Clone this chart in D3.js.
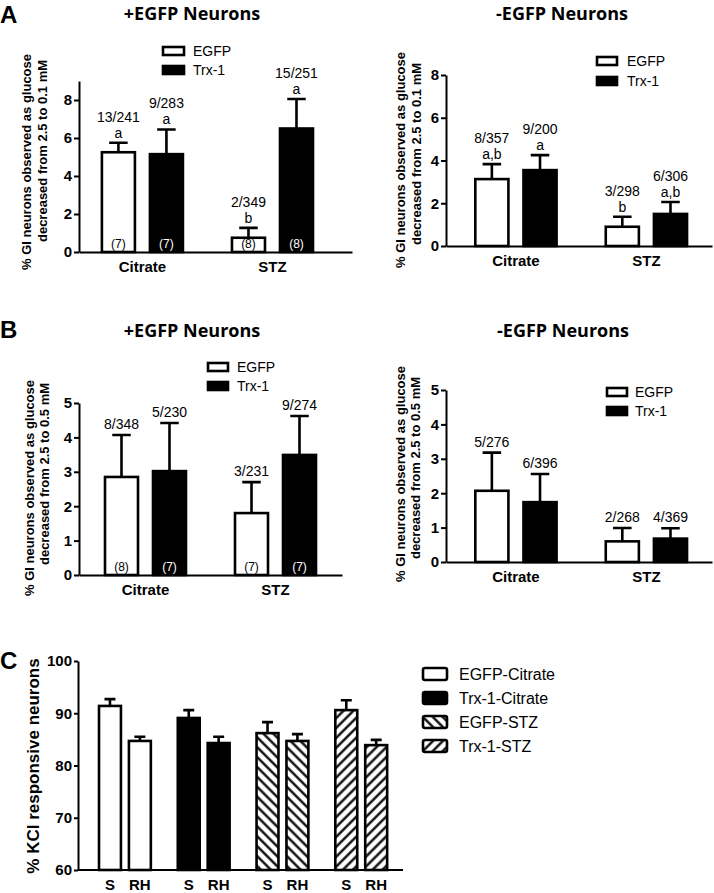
<!DOCTYPE html>
<html>
<head>
<meta charset="utf-8">
<script src="https://cdn.jsdelivr.net/npm/d3@7"></script>
<style>
  body { margin: 0; background: #fff; }
  svg { display: block; font-family: "Liberation Sans", Arial, sans-serif; }
</style>
</head>
<body>
<svg id="fig" width="714" height="893"></svg>
<script>
// ---- data (bar order: Citrate/EGFP, Citrate/Trx-1, STZ/EGFP, STZ/Trx-1) ----
const groups = ["Citrate", "STZ"];
const series = ["EGFP", "Trx-1"];

// A: glucose 2.5 -> 0.1 mM
const aPosMean = [5.25, 5.15, 0.75, 6.5];
const aPosSem = [0.5, 1.3, 0.52, 1.55];
const aPosFrac = ["13/241", "9/283", "2/349", "15/251"];
const aPosLetter = ["a", "a", "b", "a"];
const aPosN = ["(7)", "(7)", "(8)", "(8)"];

const aNegMean = [3.13, 3.55, 0.9, 1.5];
const aNegSem = [0.7, 0.7, 0.47, 0.56];
const aNegFrac = ["8/357", "9/200", "3/298", "6/306"];
const aNegLetter = ["a,b", "a", "b", "a,b"];

// B: glucose 2.5 -> 0.5 mM
const bPosMean = [2.85, 3.02, 1.8, 3.49];
const bPosSem = [1.22, 1.4, 0.9, 1.13];
const bPosFrac = ["8/348", "5/230", "3/231", "9/274"];
const bPosN = ["(8)", "(7)", "(7)", "(7)"];

const bNegMean = [2.07, 1.74, 0.6, 0.68];
const bNegSem = [1.11, 0.82, 0.39, 0.3];
const bNegFrac = ["5/276", "6/396", "2/268", "4/369"];

// C: KCl responsive neurons
const cGroups = ["EGFP-Citrate", "Trx-1-Citrate", "EGFP-STZ", "Trx-1-STZ"];
const cConds = ["S", "RH"];
const cMean = [91.4, 84.7, 89.1, 84.3, 86.2, 84.7, 90.6, 83.9];
const cSem = [1.3, 0.8, 1.5, 1.2, 2.1, 1.3, 1.9, 1.0];

const yTitleA = ["% GI neurons observed as glucose", "decreased from 2.5 to 0.1 mM"];
const yTitleB = ["% GI neurons observed as glucose", "decreased from 2.5 to 0.5 mM"];

// ---- drawing ----
const svg = d3.select("#fig");
const ink = "#000";

const defs = svg.append("defs");
function hatch(id, angle) {
  defs.append("pattern")
    .attr("id", id)
    .attr("patternUnits", "userSpaceOnUse")
    .attr("width", 7).attr("height", 7)
    .attr("patternTransform", `rotate(${angle})`)
    .call(p => p.append("rect").attr("width", 7).attr("height", 7).attr("fill", "#fff"))
    .append("line")
    .attr("x1", 3.5).attr("y1", 0).attr("x2", 3.5).attr("y2", 7)
    .attr("stroke", ink).attr("stroke-width", 2.3);
}
hatch("hatchBack", -45);   // "\\\"
hatch("hatchFwd", 45);     // "///"

const fills = {
  "EGFP": "#fff", "Trx-1": ink,
  "EGFP-Citrate": "#fff", "Trx-1-Citrate": ink,
  "EGFP-STZ": "url(#hatchBack)", "Trx-1-STZ": "url(#hatchFwd)"
};

function panelLetter(txt, x, y) {
  svg.append("text").attr("x", x).attr("y", y)
    .attr("font-size", 24).attr("font-weight", "bold").text(txt);
}

function title(txt, x, y) {
  svg.append("text").attr("x", x).attr("y", y)
    .attr("text-anchor", "middle")
    .attr("font-family", "'Open Sans', sans-serif")
    .attr("font-weight", 700).attr("font-size", 18)
    .text(txt);
}

function legend(keys, x, y, o) {
  const g = svg.append("g").attr("transform", `translate(${x},${y})`);
  const row = g.selectAll("g").data(keys).join("g")
    .attr("transform", (d, i) => `translate(0,${i * o.step})`);
  row.append("rect")
    .attr("x", 0).attr("y", -o.h / 2)
    .attr("width", o.w).attr("height", o.h)
    .attr("rx", o.rx || 0)
    .attr("fill", d => fills[d]).attr("stroke", ink).attr("stroke-width", 2.6);
  row.append("text")
    .attr("x", o.w + o.gap).attr("dy", "0.36em")
    .attr("font-size", o.fs).text(d => d);
}

function yTitle(lines, xs, ys, fs) {
  lines.forEach((t, i) => {
    svg.append("text")
      .attr("transform", `translate(${xs[i]},${ys[i]}) rotate(-90)`)
      .attr("text-anchor", "middle")
      .attr("font-size", fs).attr("font-weight", "bold")
      .text(t);
  });
}

function yAxis(y, x, ticks, tickSize, pad) {
  svg.append("g")
    .attr("transform", `translate(${x},0)`)
    .call(d3.axisLeft(y).tickValues(ticks).tickSize(tickSize).tickSizeOuter(0).tickPadding(pad).tickFormat(d3.format("d")))
    .call(g => g.selectAll("path,line").attr("stroke", ink).attr("stroke-width", 2))
    .call(g => g.selectAll("text").attr("font-size", 15).attr("font-weight", "bold").attr("fill", ink));
}

// grouped bar panel used in A and B
function groupedPanel(p) {
  const y = d3.scaleLinear().domain(p.domain).range([p.base, p.top]);
  const gx = d3.scaleBand().domain(groups).range([p.x0, p.x1])
    .paddingInner(p.pi).paddingOuter(p.po).align(p.align);
  const sx = d3.scaleBand().domain(series).range([0, gx.bandwidth()]).paddingInner(0.3125);

  const rows = [];
  groups.forEach((gname, gi) => series.forEach((s, si) => {
    const k = gi * 2 + si;
    rows.push({ g: gname, s, mean: p.mean[k], sem: p.sem[k],
      frac: p.frac[k], letter: p.letter ? p.letter[k] : null, n: p.n ? p.n[k] : null });
  }));
  const cx = d => gx(d.g) + sx(d.s) + sx.bandwidth() / 2;
  const capW = sx.bandwidth() * 0.56;

  const g = svg.append("g");
  // error bars (upper only)
  g.selectAll(".err").data(rows).join("path")
    .attr("d", d => `M${cx(d)},${y(d.mean)}V${y(d.mean + d.sem)}M${cx(d) - capW / 2},${y(d.mean + d.sem)}H${cx(d) + capW / 2}`)
    .attr("stroke", ink).attr("stroke-width", 2.6).attr("fill", "none");
  // bars
  g.selectAll(".bar").data(rows).join("rect")
    .attr("x", d => gx(d.g) + sx(d.s)).attr("width", sx.bandwidth())
    .attr("y", d => y(d.mean)).attr("height", d => y(0) - y(d.mean))
    .attr("fill", d => fills[d.s]).attr("stroke", ink).attr("stroke-width", 2.6);

  // annotations
  const fracGap = p.letter ? 21 : 6;
  g.selectAll(".frac").data(rows).join("text")
    .attr("x", cx).attr("y", d => y(d.mean + d.sem) - fracGap)
    .attr("text-anchor", "middle").attr("font-size", 14).text(d => d.frac);
  if (p.letter) {
    g.selectAll(".let").data(rows).join("text")
      .attr("x", cx).attr("y", d => y(d.mean + d.sem) - 5)
      .attr("text-anchor", "middle").attr("font-size", 14).text(d => d.letter);
  }
  if (p.n) {
    g.selectAll(".n").data(rows).join("text")
      .attr("x", cx).attr("y", y(0) - 4)
      .attr("text-anchor", "middle").attr("font-size", 12)
      .attr("fill", d => d.s === "EGFP" ? ink : "#fff").text(d => d.n);
  }

  yAxis(y, p.x0, p.ticks, 5, 2);
  svg.append("g")
    .attr("transform", `translate(0,${p.base})`)
    .call(d3.axisBottom(gx).tickSize(0).tickSizeOuter(0).tickPadding(9))
    .call(a => a.select(".domain").attr("stroke", ink).attr("stroke-width", 2))
    .call(a => a.selectAll("text").attr("font-size", 15).attr("font-weight", "bold").attr("fill", ink));
}

// ---- Panel A ----
panelLetter("A", 0, 23);
title("+EGFP Neurons", 192, 19.5);
title("-EGFP Neurons", 562, 19.5);
groupedPanel({ domain: [0, 9], ticks: [0, 2, 4, 6, 8], base: 252, top: 81,
  x0: 79, x1: 352, pi: 0.377, po: 0.238, align: 0.37,
  mean: aPosMean, sem: aPosSem, frac: aPosFrac, letter: aPosLetter, n: aPosN });
groupedPanel({ domain: [0, 8], ticks: [0, 2, 4, 6, 8], base: 246, top: 75,
  x0: 446, x1: 712, pi: 0.377, po: 0.208, align: 0.54,
  mean: aNegMean, sem: aNegSem, frac: aNegFrac, letter: aNegLetter });
yTitle(yTitleA, [31, 47], [162, 151], 13);
yTitle(yTitleA, [405, 421], [160, 154], 13);
legend(series, 163, 51, { w: 21, h: 8, step: 19, gap: 9, fs: 14 });
legend(series, 597, 61, { w: 20, h: 8, step: 20, gap: 10, fs: 14 });

// ---- Panel B ----
panelLetter("B", 0, 338);
title("+EGFP Neurons", 192, 337);
title("-EGFP Neurons", 563, 337);
groupedPanel({ domain: [0, 5], ticks: [0, 1, 2, 3, 4, 5], base: 575, top: 403,
  x0: 79, x1: 342, pi: 0.377, po: 0.2, align: 0.5,
  mean: bPosMean, sem: bPosSem, frac: bPosFrac, n: bPosN });
groupedPanel({ domain: [0, 5], ticks: [0, 1, 2, 3, 4, 5], base: 562, top: 390,
  x0: 446, x1: 712, pi: 0.377, po: 0.208, align: 0.54,
  mean: bNegMean, sem: bNegSem, frac: bNegFrac });
yTitle(yTitleB, [34, 49], [488, 474], 13);
yTitle(yTitleB, [405, 420], [474, 468], 13);
legend(series, 208, 367, { w: 20, h: 8, step: 19, gap: 9, fs: 14 });
legend(series, 607, 392, { w: 20, h: 8, step: 19, gap: 8, fs: 14 });

// ---- Panel C ----
panelLetter("C", 0, 669);
(function () {
  const y = d3.scaleLinear().domain([60, 100]).range([870, 661]);
  const gx = d3.scaleBand().domain(cGroups).range([78, 403])
    .paddingInner(0.342).paddingOuter(0.234).align(0.57);
  const sx = d3.scaleBand().domain(cConds).range([0, gx.bandwidth()]).paddingInner(0.267);
  const rows = [];
  cGroups.forEach((gname, gi) => cConds.forEach((c, ci) => {
    const k = gi * 2 + ci;
    rows.push({ g: gname, c, mean: cMean[k], sem: cSem[k] });
  }));
  const cx = d => gx(d.g) + sx(d.c) + sx.bandwidth() / 2;
  const capW = sx.bandwidth() * 0.5;

  svg.append("g").selectAll("path").data(rows).join("path")
    .attr("d", d => `M${cx(d)},${y(d.mean)}V${y(d.mean + d.sem)}M${cx(d) - capW / 2},${y(d.mean + d.sem)}H${cx(d) + capW / 2}`)
    .attr("stroke", ink).attr("stroke-width", 2.6).attr("fill", "none");
  svg.append("g").selectAll("rect").data(rows).join("rect")
    .attr("x", d => gx(d.g) + sx(d.c)).attr("width", sx.bandwidth())
    .attr("y", d => y(d.mean)).attr("height", d => y(60) - y(d.mean))
    .attr("fill", d => fills[d.g]).attr("stroke", ink).attr("stroke-width", 2.6);

  yAxis(y, 78, [60, 70, 80, 90, 100], 4, 2);
  // x axis line + condition labels
  svg.append("line").attr("x1", 78).attr("x2", 403).attr("y1", 870).attr("y2", 870)
    .attr("stroke", ink).attr("stroke-width", 2);
  svg.append("g").selectAll("text").data(rows).join("text")
    .attr("x", cx).attr("y", 890).attr("text-anchor", "middle")
    .attr("font-size", 15).attr("font-weight", "bold").text(d => d.c);

  svg.append("text")
    .attr("transform", "translate(39,766) rotate(-90)")
    .attr("text-anchor", "middle").attr("font-size", 17).attr("font-weight", "bold")
    .text("% KCl responsive neurons");

  legend(cGroups, 423, 674, { w: 24, h: 12, rx: 2, step: 24, gap: 12, fs: 16 });
})();
</script>
</body>
</html>
